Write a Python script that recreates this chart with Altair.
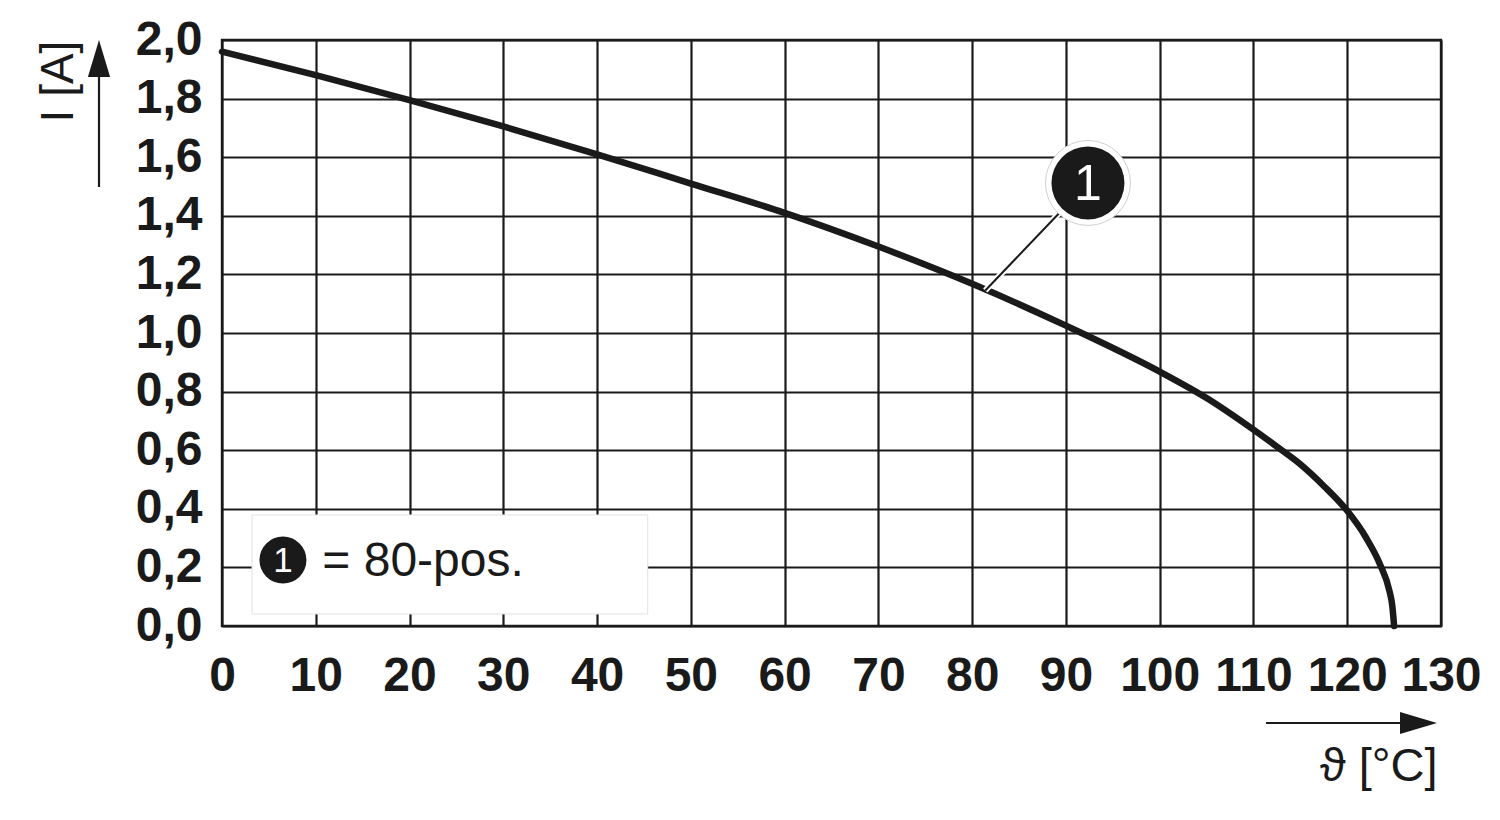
import altair as alt
import pandas as pd

# ---- data ----
temp_c = [0, 10, 20, 30, 40, 50, 60, 70, 80, 90, 100, 105, 110, 112.5, 115, 117.5, 120, 122, 123.5,
          124.5, 124.8, 125]
current_a = [1.96, 1.88, 1.795, 1.705, 1.61, 1.51, 1.41, 1.295, 1.168, 1.025, 0.868, 0.778, 0.67, 0.612,
             0.552, 0.478, 0.393, 0.302, 0.21, 0.12, 0.07, 0.0]

x_ticks = [0, 10, 20, 30, 40, 50, 60, 70, 80, 90, 100, 110, 120, 130]
y_ticks = [0.0, 0.2, 0.4, 0.6, 0.8, 1.0, 1.2, 1.4, 1.6, 1.8, 2.0]

callout_label = ["1"]
callout_x = [92.35]
callout_y = [1.512]
leader_x = [92.35, 81.4]
leader_y = [1.512, 1.145]

legend_box_x = [3.2, 45.4]
legend_box_y = [0.041, 0.379]
legend_marker_x = [6.5]
legend_marker_y = [0.225]
legend_text = ["= 80-pos."]
legend_text_x = [10.7]
legend_text_y = [0.171]

x_title = "ϑ [°C]"
y_title = "I [A]"

FONT = "Liberation Sans"
INK = "#1a1a1a"
W, H = 1219, 586

curve_df = pd.DataFrame({"t": temp_c, "i": current_a})
x_scale = alt.Scale(domain=[0, 130], nice=False, zero=False)
y_scale = alt.Scale(domain=[0, 2.0], nice=False, zero=False)

x_axis = alt.Axis(values=x_ticks, grid=True, gridColor=INK, gridWidth=2.2, gridOpacity=1,
                  ticks=False, domain=False, labelFont=FONT, labelFontSize=48, labelFontWeight="bold",
                  labelColor=INK, labelPadding=26, labelFlush=False, labelOverlap=False, labelBound=False,
                  title=x_title, titleFont=FONT, titleFontSize=47, titleFontWeight="normal",
                  titleColor=INK, titleX=1215, titleY=154, titleAlign="right",
                  titleBaseline="alphabetic", titleAnchor="end")
y_axis = alt.Axis(values=y_ticks, grid=True, gridColor=INK, gridWidth=2.2, gridOpacity=1,
                  ticks=False, domain=False, labelFont=FONT, labelFontSize=48, labelFontWeight="bold",
                  labelColor=INK, labelPadding=20, labelFlush=False, labelOverlap=False,
                  labelExpr="replace(format(datum.value, '.1f'), '.', ',')",
                  title=y_title, titleFont=FONT, titleFontSize=46, titleFontWeight="normal",
                  titleColor=INK, titleX=-150, titleY=41, titleAngle=270, titleAlign="center",
                  titleBaseline="alphabetic", titleAnchor="end")

curve = alt.Chart(curve_df).mark_line(color=INK, strokeWidth=6.5, interpolate="monotone",
                                      strokeCap="round").encode(
    x=alt.X("t:Q", scale=x_scale, axis=x_axis),
    y=alt.Y("i:Q", scale=y_scale, axis=y_axis),
)

leader_df = pd.DataFrame({"t": leader_x, "i": leader_y, "o": [0, 1]})
leader_white = alt.Chart(leader_df).mark_line(color="white", strokeWidth=6).encode(
    x=alt.X("t:Q", scale=x_scale), y=alt.Y("i:Q", scale=y_scale), order="o:Q")
leader_black = alt.Chart(leader_df).mark_line(color=INK, strokeWidth=2).encode(
    x=alt.X("t:Q", scale=x_scale), y=alt.Y("i:Q", scale=y_scale), order="o:Q")

call_df = pd.DataFrame({"t": callout_x, "i": callout_y, "lab": callout_label})
halo = alt.Chart(call_df).mark_point(shape="circle", filled=True, fill="white", stroke="#d0d0d0",
                                     strokeWidth=1, size=7225, opacity=1).encode(
    x=alt.X("t:Q", scale=x_scale), y=alt.Y("i:Q", scale=y_scale))
dot = alt.Chart(call_df).mark_point(shape="circle", filled=True, color=INK, size=5329, opacity=1).encode(
    x=alt.X("t:Q", scale=x_scale), y=alt.Y("i:Q", scale=y_scale))
dot_text = alt.Chart(call_df).mark_text(font=FONT, fontSize=50, color="white", align="center",
                                        baseline="middle", dy=2).encode(
    x=alt.X("t:Q", scale=x_scale), y=alt.Y("i:Q", scale=y_scale), text="lab:N")

box_df = pd.DataFrame({"x1": [legend_box_x[0]], "x2": [legend_box_x[1]],
                       "y1": [legend_box_y[0]], "y2": [legend_box_y[1]]})
box = alt.Chart(box_df).mark_rect(fill="white", stroke="#e2e2e2", strokeWidth=1).encode(
    x=alt.X("x1:Q", scale=x_scale), x2="x2:Q", y=alt.Y("y1:Q", scale=y_scale), y2="y2:Q")

lm_df = pd.DataFrame({"t": legend_marker_x, "i": legend_marker_y, "lab": callout_label})
lm_dot = alt.Chart(lm_df).mark_point(shape="circle", filled=True, color=INK, size=2209, opacity=1).encode(
    x=alt.X("t:Q", scale=x_scale), y=alt.Y("i:Q", scale=y_scale))
lm_text = alt.Chart(lm_df).mark_text(font=FONT, fontSize=35, color="white", align="center",
                                     baseline="middle", dy=1).encode(
    x=alt.X("t:Q", scale=x_scale), y=alt.Y("i:Q", scale=y_scale), text="lab:N")

lt_df = pd.DataFrame({"t": legend_text_x, "i": legend_text_y, "lab": legend_text})
lt = alt.Chart(lt_df).mark_text(font=FONT, fontSize=48, color=INK, align="left",
                                baseline="alphabetic").encode(
    x=alt.X("t:Q", scale=x_scale), y=alt.Y("i:Q", scale=y_scale), text="lab:N")

# axis arrows (decorations outside the plot area)
one = pd.DataFrame({"k": [0]})
y_shaft = alt.Chart(one).mark_rule(color=INK, strokeWidth=2.2).encode(
    x=alt.value(-123), y=alt.value(147), y2=alt.value(36))
y_head = alt.Chart(one).mark_point(shape="M0,-1L0.6,1L-0.6,1Z", filled=True, color=INK,
                                   size=1369, opacity=1).encode(
    x=alt.value(-123), y=alt.value(18.5))
x_shaft = alt.Chart(one).mark_rule(color=INK, strokeWidth=2.2).encode(
    x=alt.value(1044), x2=alt.value(1180), y=alt.value(683))
x_head = alt.Chart(one).mark_point(shape="M1,0L-1,-0.6L-1,0.6Z", filled=True, color=INK,
                                   size=1369, opacity=1).encode(
    x=alt.value(1196.5), y=alt.value(683))

chart = alt.layer(
    curve, box, lm_dot, lm_text, lt, leader_white, leader_black, halo, dot, dot_text,
    y_shaft, y_head, x_shaft, x_head
).properties(
    width=W, height=H,
    padding={"left": 214, "top": 32, "right": 50, "bottom": 190},
    autosize=alt.AutoSizeParams(type="none"),
    background="white",
).configure_view(stroke=INK, strokeWidth=2.4)

chart.save("out.html", embed_options={"renderer": "svg", "actions": False})
